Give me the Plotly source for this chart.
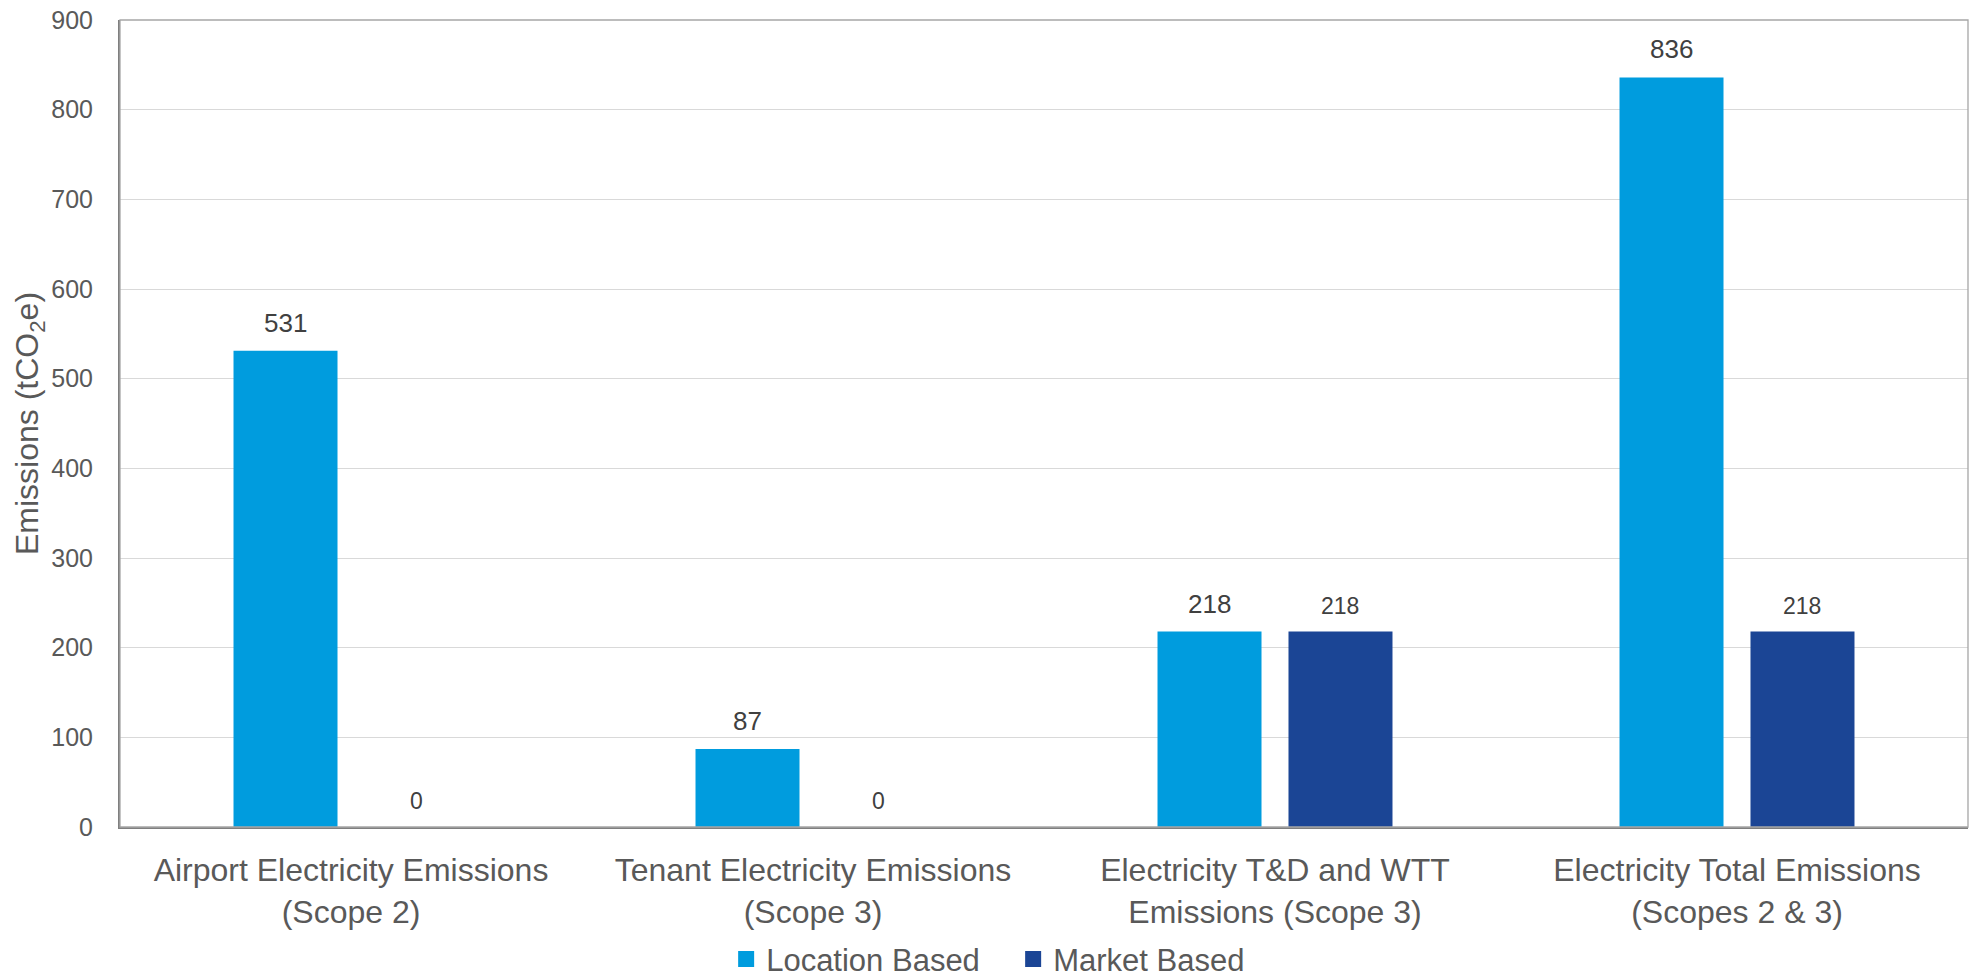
import plotly.graph_objects as go

categories = [
    "Airport Electricity Emissions<br>(Scope 2)",
    "Tenant Electricity Emissions<br>(Scope 3)",
    "Electricity T&D and WTT<br>Emissions (Scope 3)",
    "Electricity Total Emissions<br>(Scopes 2 & 3)",
]
location_based = [531, 87, 218, 836]
market_based = [0, 0, 218, 218]
series_names = ["Location Based", "Market Based"]
y_ticks = [0, 100, 200, 300, 400, 500, 600, 700, 800, 900]

COL_LOC = "#009CDE"
COL_MKT = "#1B4595"
FONT = "Liberation Sans, Arial, sans-serif"
TXT = "#595959"
LBL = "#404040"

BARGAP = 0.433
BARGROUPGAP = 0.206

fig = go.Figure()
fig.add_trace(go.Bar(x=categories, y=location_based, name=series_names[0],
                     marker=dict(color=COL_LOC, line=dict(width=0)), showlegend=False))
fig.add_trace(go.Bar(x=categories, y=market_based, name=series_names[1],
                     marker=dict(color=COL_MKT, line=dict(width=0)), showlegend=False))
# legend proxies (larger square swatches)
for nm, col in zip(series_names, [COL_LOC, COL_MKT]):
    fig.add_trace(go.Scatter(x=[None], y=[None], mode="markers", name=nm,
                             marker=dict(symbol="square", size=17, color=col)))

slot = (1 - BARGAP) / 2
offsets = [-slot / 2, slot / 2]
annotations = []
for k, (vals, fsize) in enumerate([(location_based, 26), (market_based, 23)]):
    for i, v in enumerate(vals):
        annotations.append(dict(
            x=i + offsets[k], y=v, xref="x", yref="y", text=str(v),
            showarrow=False, yanchor="bottom", xanchor="center", yshift=11,
            font=dict(family=FONT, size=fsize, color=LBL)))

fig.update_layout(
    width=1972, height=976,
    margin=dict(l=120, r=4, t=20, b=149, autoexpand=False),
    paper_bgcolor="white", plot_bgcolor="white",
    barmode="group", bargap=BARGAP, bargroupgap=BARGROUPGAP,
    font=dict(family=FONT, color=TXT),
    annotations=annotations,
    legend=dict(orientation="h", x=0.328, xanchor="left", y=-0.164, yanchor="middle",
                entrywidth=242, entrywidthmode="pixels",
                font=dict(family=FONT, size=31, color=TXT), bgcolor="rgba(0,0,0,0)"),
    shapes=[dict(type="rect", xref="paper", yref="paper", x0=0, x1=1, y0=0, y1=1,
                 line=dict(color="#A6A6A6", width=1.3), layer="above")],
)
fig.update_xaxes(
    automargin=False,
    showline=True, linecolor="#7F7F7F", linewidth=2, ticks="",
    tickfont=dict(family=FONT, size=32, color=TXT), ticklabelstandoff=14,
    showgrid=False, zeroline=False,
)
fig.update_yaxes(
    automargin=False,
    range=[0, 900], tickvals=y_ticks, showline=True, linecolor="#7F7F7F", linewidth=2,
    ticks="", showgrid=True, gridcolor="#D9D9D9", gridwidth=1.3, zeroline=False,
    tickfont=dict(family=FONT, size=25, color=TXT), ticklabelstandoff=20,
    title=dict(text="Emissions (tCO<sub>2</sub>e)", font=dict(family=FONT, size=32, color=TXT),
               standoff=3),
)

fig.write_html("out.html", config={"displayModeBar": False},
               post_script="document.body.style.margin='0';document.body.style.overflow='hidden';")
